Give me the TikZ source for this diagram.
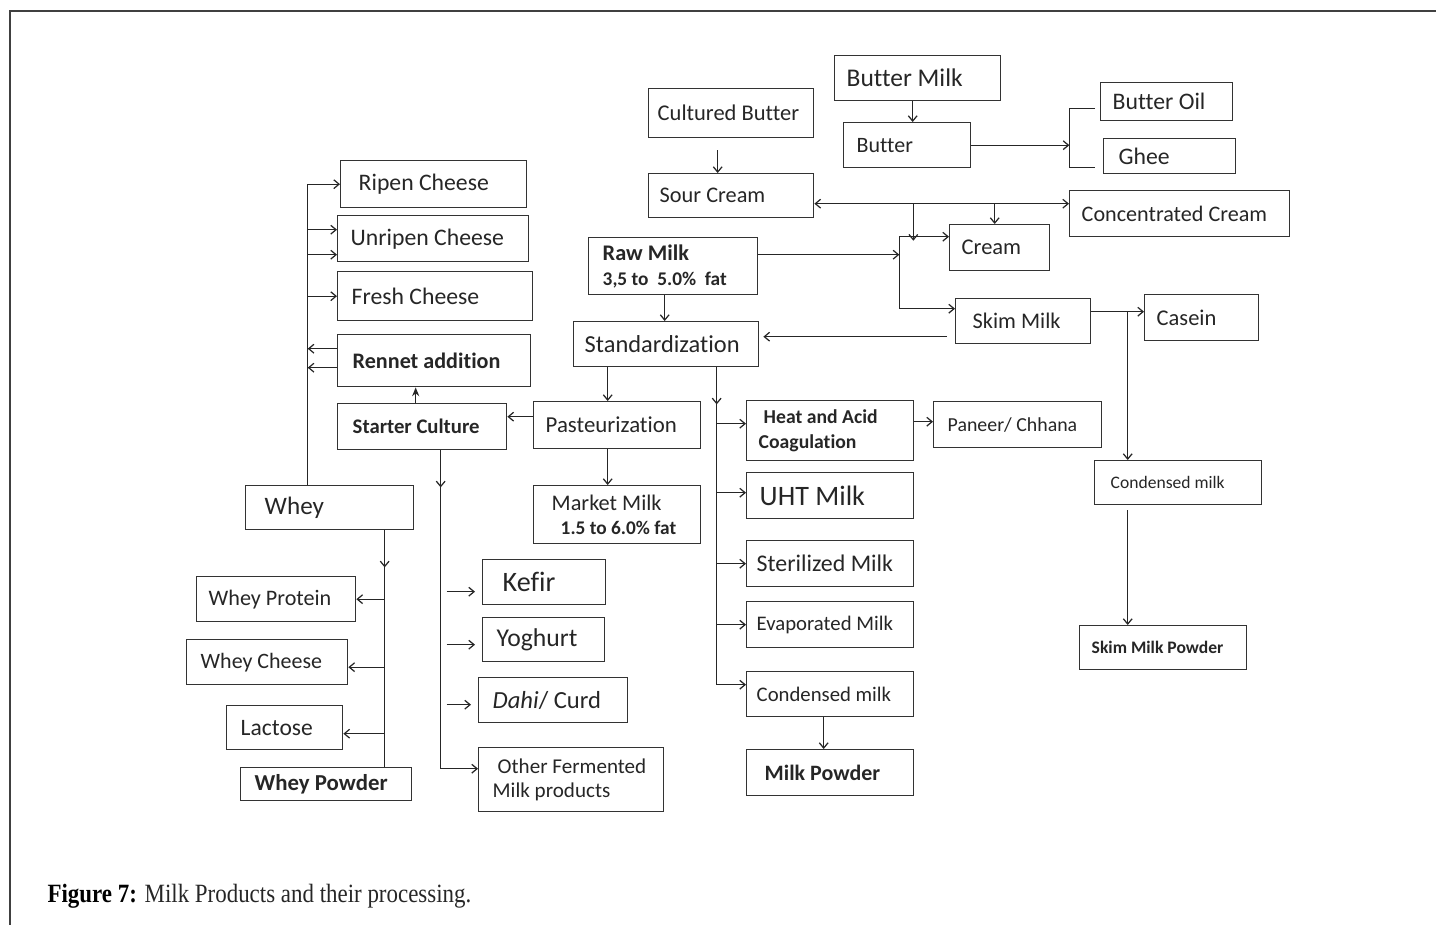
\documentclass[tikz,border=0pt]{standalone}
\usepackage{fontspec}
\setmainfont{Carlito}[Ligatures=CommonOff]
\newfontfamily\capfont[FakeStretch=0.87]{Liberation Serif}
\usetikzlibrary{arrows.meta}
\newcommand{\fs}[1]{\fontsize{#1}{14}\selectfont}

\begin{document}
\begin{tikzpicture}[x=0.02cm, y=-0.02cm, >={Straight Barb[length=3pt,width=5pt]},
	       line width=0.7pt, color=black!85,
	       box/.style={draw=black!80, line width=0.8pt, anchor=north west, align=flush left,
	         inner ysep=0pt, inner xsep=0.24cm, font=\fs{13}},
	       link/.style={->}]

	      \useasboundingbox (0,0) rectangle (1436,925);
	      \draw[black!75, line width=0.9pt] (1436,11) -- (10,11) -- (10,925);

	      % cream side
	      \node[box, text width=2.84cm, minimum height=0.9cm, font=\fs{14.5}] at (834,55) (buttermilk) {Butter Milk};
	      \node[box, text width=2.94cm, minimum height=0.98cm, inner xsep=0.18cm, font=\fs{12.8}] at (648,88) (culturedbutter) {Cultured Butter};
	      \node[box, text width=2.02cm, minimum height=0.9cm, inner xsep=0.26cm, font=\fs{12.5}] at (843,122) (butter) {Butter};
	      \node[box, text width=2.16cm, minimum height=0.76cm, font=\fs{13.5}] at (1100,82) (butteroil) {Butter Oil};
	      \node[box, text width=2.04cm, minimum height=0.7cm, inner xsep=0.3cm, font=\fs{13.5}] at (1103,138) (ghee) {Ghee};
	      \node[box, text width=2.86cm, minimum height=0.88cm, inner xsep=0.22cm, font=\fs{12.7}] at (648,173) (sourcream) {Sour Cream};
	      \node[box, text width=3.92cm, minimum height=0.92cm, font=\fs{12.6}] at (1069,190) (conccream) {Concentrated Cream};
	      \node[box, text width=1.52cm, minimum height=0.92cm, font=\fs{12.8}] at (949,224) (cream) {Cream};
	      \node[box, text width=2.82cm, minimum height=1.14cm, inner xsep=0.28cm, font=\fs{12.7}\bfseries] at (588,237) (rawmilk) {Raw Milk\\\fs{11}3,5 to\ \ 5.0\%\ \ fat};
	      \node[box, text width=2.02cm, minimum height=0.9cm, inner xsep=0.34cm, font=\fs{12.7}] at (955,298) (skimmilk) {Skim Milk};
	      \node[box, text width=1.8cm, minimum height=0.92cm, font=\fs{12.8}] at (1144,294) (casein) {Casein};
	      \node[box, text width=3.26cm, minimum height=0.9cm, inner xsep=0.22cm, font=\fs{13.9}] at (573,321) (standard) {Standardization};

	      % cheese side
	      \node[box, text width=3cm, minimum height=0.94cm, inner xsep=0.36cm, font=\fs{13.5}] at (340,160) (ripen) {Ripen Cheese};
	      \node[box, text width=3.3cm, minimum height=0.92cm, inner xsep=0.26cm, font=\fs{13.5}] at (337,215) (unripen) {Unripen Cheese};
	      \node[box, text width=3.34cm, minimum height=0.98cm, inner xsep=0.28cm, font=\fs{13.5}] at (337,271) (fresh) {Fresh Cheese};
	      \node[box, text width=3.26cm, minimum height=1.04cm, inner xsep=0.3cm, font=\fs{12.6}\bfseries] at (337,334) (rennet) {Rennet addition};
	      \node[box, text width=2.78cm, minimum height=0.92cm, inner xsep=0.3cm, font=\fs{11.8}\bfseries] at (337,403) (starter) {Starter Culture};
	      \node[box, text width=2.86cm, minimum height=0.94cm, font=\fs{13}] at (533,401) (pasteur) {Pasteurization};

	      % milk products
	      \node[box, text width=2.86cm, minimum height=1.2cm, font=\fs{11.2}\bfseries] at (746,400) (heatacid) {\hspace*{0.1cm}Heat and Acid\\Coagulation};
	      \node[box, text width=2.8cm, minimum height=0.92cm, inner xsep=0.28cm, font=\fs{11.3}] at (933,401) (paneer) {Paneer/ Chhana};
	      \node[box, text width=2.7cm, minimum height=0.88cm, inner xsep=0.32cm, font=\fs{10}] at (1094,460) (condright) {Condensed milk};
	      \node[box, text width=2.7cm, minimum height=1.16cm, inner xsep=0.32cm, font=\fs{12.7}] at (533,485) (market) {\hspace*{0.04cm}Market Milk\\\hspace*{0.22cm}\textbf{\fs{11}1.5 to 6.0\% fat}};
	      \node[box, text width=2.82cm, minimum height=0.92cm, inner xsep=0.26cm, font=\fs{16}] at (746,472) (uht) {UHT Milk};
	      \node[box, text width=2.94cm, minimum height=0.92cm, inner xsep=0.2cm, font=\fs{13.6}] at (746,540) (steril) {Sterilized Milk};
	      \node[box, text width=2.94cm, minimum height=0.92cm, inner xsep=0.2cm, font=\fs{11.8}] at (746,601) (evap) {Evaporated Milk};
	      \node[box, text width=2.94cm, minimum height=0.9cm, inner xsep=0.2cm, font=\fs{11.8}] at (746,671) (condmid) {Condensed milk};
	      \node[box, text width=2.62cm, minimum height=0.92cm, inner xsep=0.36cm, font=\fs{12.5}\bfseries] at (746,749) (milkpowder) {Milk Powder};
	      \node[box, text width=2.86cm, minimum height=0.88cm, font=\fs{10}\bfseries] at (1079,625) (skimpowder) {Skim Milk Powder};

	      % whey side
	      \node[box, text width=2.6cm, minimum height=0.88cm, inner xsep=0.38cm, font=\fs{14.3}] at (245,485) (whey) {Whey};
	      \node[box, text width=2.7cm, minimum height=0.9cm, font=\fs{12.6}] at (196,576) (wheyprot) {Whey Protein};
	      \node[box, text width=2.66cm, minimum height=0.9cm, inner xsep=0.28cm, font=\fs{12.5}] at (186,639) (wheycheese) {Whey Cheese};
	      \node[box, text width=1.76cm, minimum height=0.88cm, inner xsep=0.28cm, font=\fs{13.4}] at (226,705) (lactose) {Lactose};
	      \node[box, text width=2.86cm, minimum height=0.66cm, inner xsep=0.28cm, font=\fs{13}\bfseries] at (240,767) (wheypowder) {Whey Powder};

	      % fermented
	      \node[box, text width=1.66cm, minimum height=0.9cm, inner xsep=0.4cm, font=\fs{16}] at (482,559) (kefir) {Kefir};
	      \node[box, text width=1.88cm, minimum height=0.88cm, inner xsep=0.28cm, font=\fs{14.6}] at (482,617) (yoghurt) {Yoghurt};
	      \node[box, text width=2.42cm, minimum height=0.9cm, inner xsep=0.28cm, font=\fs{14}] at (478,677) (dahi) {\textit{Dahi}/ Curd};
	      \node[box, text width=3.14cm, minimum height=1.28cm, inner xsep=0.28cm, font=\fs{12}] at (478,747) (otherferm) {\hspace*{0.1cm}Other Fermented\\Milk products};

	      \node[anchor=west, inner xsep=0pt, font=\capfont\fontsize{15}{18}\selectfont] at (47,896) (caption)
	        {\textcolor{black}{\textbf{Figure 7:}} Milk Products and their processing.};

	      \coordinate (oilfork) at ([xshift=1.96cm]butter.east);
	      \coordinate (sc) at ([yshift=-0.16cm]sourcream.east);
	      \coordinate (sep) at ([xshift=2.82cm, yshift=0.23cm]rawmilk.east);
	      \coordinate (trunk) at ([xshift=1.01cm]standard.south);
	      \coordinate (ferm) at ([xshift=0.37cm]starter.south);
	      \coordinate (curd) at ([xshift=-0.44cm]whey.north);
	      \coordinate (wheyline) at ([xshift=1.1cm]whey.south);

	      \draw[link] ([xshift=-0.1cm]buttermilk.south) -- ([xshift=-0.1cm]buttermilk.south |- butter.north);
	      \draw[link] ([xshift=-0.27cm, yshift=-0.24cm]culturedbutter.south) -- ([xshift=-0.27cm]culturedbutter.south |- sourcream.north);
	      \draw[link] (butter.east) -- (oilfork);
	      \draw ([xshift=-0.1cm, yshift=-0.14cm]butteroil.west) -| (oilfork) |- ([xshift=-0.16cm, yshift=-0.23cm]ghee.west);
	      \draw[link, <->] (sc) -- (sc -| conccream.west);
	      \draw[link] ([xshift=0.28cm]sc -| sep) -- ++(0,37);
	      \draw[link] ([xshift=-0.1cm]sc -| cream.north) -- ([xshift=-0.1cm]cream.north);
	      \draw[link] ([yshift=0.23cm]rawmilk.east) -- (sep);
	      \draw[link] (sep) |- ([yshift=0.22cm]cream.west);
	      \draw[link] (sep) |- ([yshift=0.25cm]skimmilk.west);
	      \draw[link] ([xshift=-0.16cm, yshift=-0.31cm]skimmilk.west) -- ([xshift=0.08cm, yshift=-0.31cm]skimmilk.west -| standard.east);
	      \draw[link] ([yshift=0.12cm]casein.west -| skimmilk.east) -- ([yshift=0.12cm]casein.west);
	      \draw[link] ([xshift=-1.01cm, yshift=0.12cm]condright.north |- casein.west) -- ([xshift=-1.01cm]condright.north);
	      \draw[link] ([xshift=-1.01cm, yshift=-0.1cm]condright.south) -- ([xshift=-1.01cm]condright.south |- skimpowder.north);

	      \draw[link] ([xshift=-0.17cm]rawmilk.south) -- ([xshift=-0.17cm]rawmilk.south |- standard.north);
	      \draw[link] ([xshift=-0.19cm]pasteur.north |- standard.south) -- ([xshift=-0.19cm]pasteur.north);
	      \draw[link] ([yshift=0.17cm]pasteur.west) -- ([yshift=0.17cm]pasteur.west -| starter.east);
	      \draw[link] ([xshift=-0.19cm]pasteur.south) -- ([xshift=-0.19cm]pasteur.south |- market.north);
	      \draw[-{Stealth[length=5pt, width=4pt]}, line width=0.9pt] ([xshift=-0.13cm]starter.north) -- ([xshift=-0.13cm]starter.north |- rennet.south);

	      \draw[link] (trunk) -- ++(0,37);
	      \draw[link] (trunk) |- ([yshift=0.19cm]condmid.west);
	      \foreach \n/\dy in {heatacid/0.14, uht/0.06, steril/0, evap/0}
	        \draw[link] ([yshift=\dy cm]\n.west -| trunk) -- ([yshift=\dy cm]\n.west);
	      \draw[link] ([yshift=0.18cm]heatacid.east) -- ([yshift=0.18cm]heatacid.east -| paneer.west);
	      \draw[link] ([xshift=-0.13cm]condmid.south) -- ([xshift=-0.13cm]condmid.south |- milkpowder.north);

	      \draw[link] (ferm) -- ++(0,37);
	      \draw[link] (ferm) |- ([yshift=0.22cm]otherferm.west);
	      \foreach \n/\dy in {kefir/-0.19, yoghurt/-0.1, dahi/-0.09}
	        \draw[link] ([xshift=0.12cm, yshift=\dy cm]\n.west -| ferm) -- ([xshift=-0.14cm, yshift=\dy cm]\n.west);

	      \draw[link] (curd) |- (ripen.west);
	      \foreach \dy in {0.18, -0.32}
	        \draw[link] ([yshift=\dy cm]unripen.west -| curd) -- ([yshift=\dy cm]unripen.west);
	      \draw[link] (fresh.west -| curd) -- (fresh.west);
	      \foreach \dy in {0.24, -0.14}
	        \draw[link] ([yshift=\dy cm]rennet.west) -- ([yshift=\dy cm]rennet.west -| curd);

	      \draw (wheyline) -- (wheyline |- wheypowder.north);
	      \draw[link] (wheyline) -- ++(0,37);
	      \foreach \n/\dy in {wheyprot/0, wheycheese/-0.1, lactose/-0.12}
	        \draw[link] ([yshift=\dy cm]\n.east -| wheyline) -- ([yshift=\dy cm]\n.east);

	    \end{tikzpicture}
\end{document}
